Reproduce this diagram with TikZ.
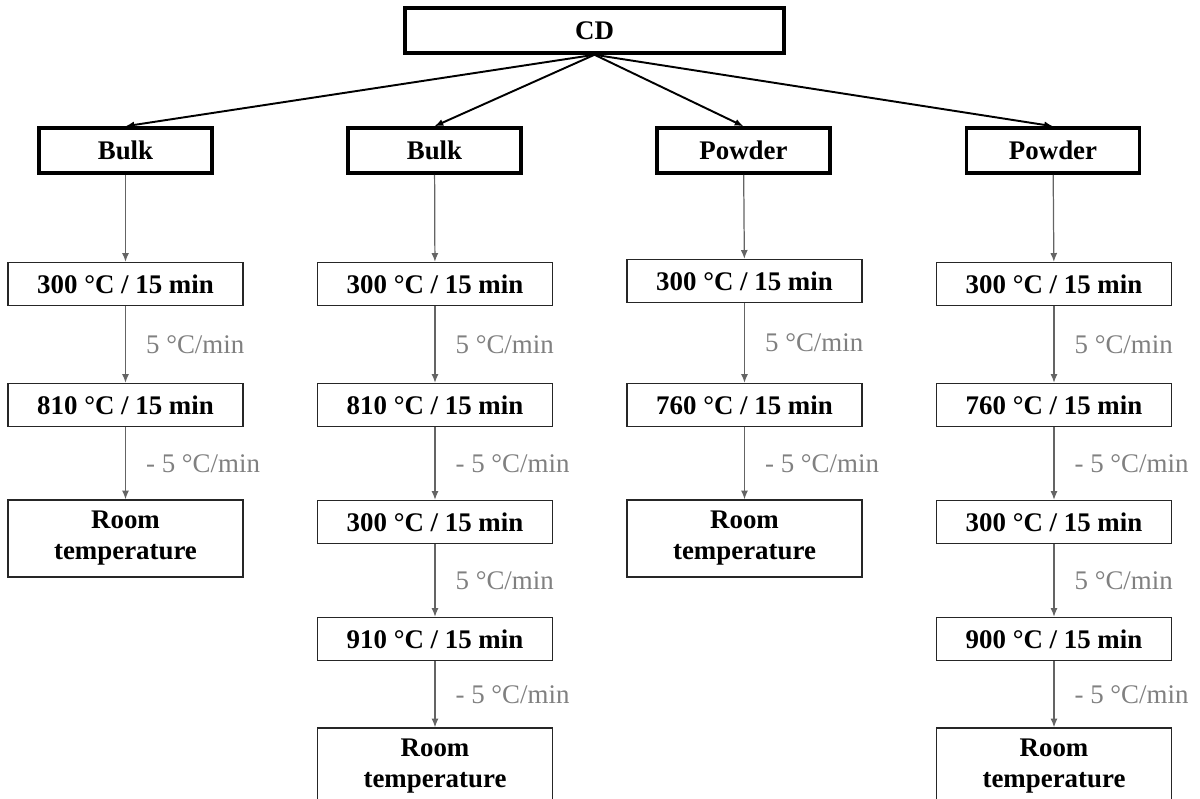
\documentclass[tikz,border=0pt]{standalone}
\usepackage{fontspec}
\setmainfont{Liberation Serif}
\usetikzlibrary{arrows.meta}
\definecolor{rategray}{RGB}{128,128,128}
\definecolor{linegray}{RGB}{100,100,100}
\begin{document}
\begin{tikzpicture}[x=10mm, y=10mm, >={Latex[length=5pt,width=4pt]},
  font=\fontsize{15.3}{17.6}\selectfont\bfseries,
  top/.style={draw, line width=2pt, minimum width=7.58cm, minimum height=0.9cm, inner sep=0pt},
  kind/.style={draw, line width=2pt, minimum width=3.46cm, minimum height=0.9cm, inner sep=0pt},
  stage/.style={draw=black!85, line width=0.8pt, minimum width=4.7cm, minimum height=0.86cm, inner sep=0pt},
  room/.style={stage, minimum height=1.54cm, align=center},
  branch/.style={->, line width=1.1pt},
  flow/.style={->, linegray, line width=0.7pt},
  rate/.style={midway, right=0.4cm, inner sep=0pt, rategray, font=\fontsize{15.3}{17.6}\selectfont\mdseries}]
	%Bildbereich
	\useasboundingbox (0,0) rectangle (24,-15.96);
	%Oberste Ebene
	\node[top] (cd) at (11.89,-0.61) {CD};
	\node[kind] (bulkA) at (2.51,-3.01) {Bulk};
	\node[kind] (bulkB) at (8.69,-3.01) {Bulk};
	\node[kind] (powderA) at (14.87,-3.01) {Powder};
	\node[kind] (powderB) at (21.06,-3.01) {Powder};
	\foreach \k in {bulkA,bulkB,powderA,powderB} \draw[branch] (cd.south) -- (\k.north);
	%Spalte 1
	\node[stage] (a1) at (2.51,-5.68) {300 °C / 15 min};
	\node[stage] (a2) at (2.51,-8.10) {810 °C / 15 min};
	\node[room] (a3) at (2.51,-10.77) {Room\\temperature};
	\draw[flow] (bulkA) -- (a1);
	\draw[flow] (a1) -- node[rate] {5 °C/min} (a2);
	\draw[flow] (a2) -- node[rate] {- 5 °C/min} (a3);
	%Spalte 2
	\node[stage] (b1) at (8.70,-5.68) {300 °C / 15 min};
	\node[stage] (b2) at (8.70,-8.10) {810 °C / 15 min};
	\node[stage] (b3) at (8.70,-10.44) {300 °C / 15 min};
	\node[stage] (b4) at (8.70,-12.78) {910 °C / 15 min};
	\node[room] (b5) at (8.70,-15.33) {Room\\temperature};
	\draw[flow] (bulkB) -- (b1);
	\draw[flow] (b1) -- node[rate] {5 °C/min} (b2);
	\draw[flow] (b2) -- node[rate] {- 5 °C/min} (b3);
	\draw[flow] (b3) -- node[rate] {5 °C/min} (b4);
	\draw[flow] (b4) -- node[rate] {- 5 °C/min} (b5);
	%Spalte 3
	\node[stage] (c1) at (14.89,-5.62) {300 °C / 15 min};
	\node[stage] (c2) at (14.89,-8.10) {760 °C / 15 min};
	\node[room] (c3) at (14.89,-10.77) {Room\\temperature};
	\draw[flow] (powderA) -- (c1);
	\draw[flow] (c1) -- node[rate] {5 °C/min} (c2);
	\draw[flow] (c2) -- node[rate] {- 5 °C/min} (c3);
	%Spalte 4
	\node[stage] (d1) at (21.08,-5.68) {300 °C / 15 min};
	\node[stage] (d2) at (21.08,-8.10) {760 °C / 15 min};
	\node[stage] (d3) at (21.08,-10.44) {300 °C / 15 min};
	\node[stage] (d4) at (21.08,-12.78) {900 °C / 15 min};
	\node[room] (d5) at (21.08,-15.33) {Room\\temperature};
	\draw[flow] (powderB) -- (d1);
	\draw[flow] (d1) -- node[rate] {5 °C/min} (d2);
	\draw[flow] (d2) -- node[rate] {- 5 °C/min} (d3);
	\draw[flow] (d3) -- node[rate] {5 °C/min} (d4);
	\draw[flow] (d4) -- node[rate] {- 5 °C/min} (d5);
\end{tikzpicture}
\end{document}
